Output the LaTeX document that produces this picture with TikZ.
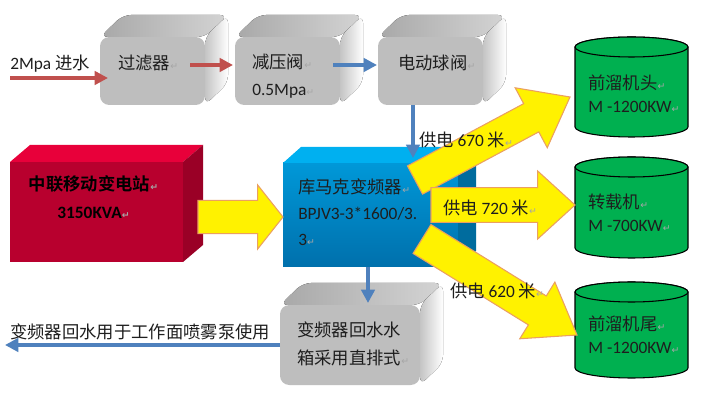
\documentclass[tikz,border=0pt]{standalone}
\usepackage{fontspec}
\setmainfont{Carlito}
\newfontfamily\cjk{Noto Sans CJK SC}[BoldFont={Noto Sans CJK SC Bold}]
\newfontfamily\dvs{DejaVu Sans}
\usetikzlibrary{calc,arrows.meta}
\definecolor{arrred}{HTML}{C0504D}
\definecolor{arrblue}{HTML}{4F81BD}
\definecolor{gfront}{HTML}{BEBEBE}
\definecolor{gtopA}{HTML}{A8A8A8}
\definecolor{gtopB}{HTML}{D4D4D4}
\definecolor{gsideA}{HTML}{C4C4C4}
\definecolor{rfront}{HTML}{B8002E}
\definecolor{rtop}{HTML}{E8003A}
\definecolor{rside}{HTML}{9A0026}
\definecolor{bfrontT}{HTML}{0098D8}
\definecolor{bfrontB}{HTML}{0070AC}
\definecolor{btop}{HTML}{00B0F0}
\definecolor{bside}{HTML}{006C9E}
\definecolor{cylgreen}{HTML}{00B050}
\definecolor{fatline}{HTML}{EBA060}
\definecolor{txt}{HTML}{1E1E1E}
\newcommand\cj[1]{{\cjk #1}}
\newcommand\parmk{{\fontsize{7}{7}\selectfont\dvs\color{black!35}↵}}
% fat arrow: #1 start, #2 tip, #3 shaft half width, #4 head half width, #5 head length
\newcommand\fatarrow[5]{%
  \coordinate (fa-h) at ($(#2)!#5!(#1)$);
  \filldraw[fat] ($(#1)!#3!90:(#2)$) -- ($(fa-h)!#3!-90:(#1)$) -- ($(fa-h)!#4!-90:(#1)$)
    -- (#2) -- ($(fa-h)!#4!90:(#1)$) -- ($(fa-h)!#3!90:(#1)$) -- ($(#1)!#3!-90:(#2)$) -- cycle;
}
\begin{document}
\begin{tikzpicture}[x=0.75pt,y=-0.75pt,
  font=\fontsize{13}{20.25}\selectfont, text=txt,
  face/.style={rectangle, inner sep=0pt, outer sep=0pt},
  grayfront/.style={face, rounded corners=7pt, fill=gfront, minimum width=78.75pt, minimum height=51pt},
  gtop/.style={rounded corners=6pt, left color=gtopA, right color=gtopB},
  gside/.style={rounded corners=6pt, left color=gsideA, right color=white},
  lbl/.style={inner sep=0pt, anchor=west, align=left},
  redarr/.style={draw=arrred, line width=3pt, -{Triangle[length=10pt,width=10pt]}},
  bluearr/.style={draw=arrblue, line width=3pt, -{Triangle[length=10pt,width=10pt]}},
  fat/.style={fill=yellow, draw=fatline, line width=0.8pt, line join=miter},
  cylbox/.style={face, minimum width=84.75pt},
  cyl/.style={fill=cylgreen, draw=black, line width=0.8pt}
]
\useasboundingbox (0,0) rectangle (706,402);
\fill[white] (0,0) rectangle (706,402);

% ---------- gray boxes top row ----------
\node[grayfront] (f) at (152.5,71) {};
\fill[gtop] (f.north west) -- ++(23,-22) -- ($(f.north east)+(23,-22)$) -- (f.north east) -- cycle;
\fill[gside] (f.north east) -- ++(23,-22) -- ($(f.south east)+(23,-22)$) -- (f.south east) -- cycle;
\node[lbl] (ft) at ($(f.west)+(18,-8)$) {\cj{过滤器}\parmk};

\node[grayfront] (v) at (287.5,71) {};
\fill[gtop] (v.north west) -- ++(23,-22) -- ($(v.north east)+(23,-22)$) -- (v.north east) -- cycle;
\fill[gside] (v.north east) -- ++(23,-22) -- ($(v.south east)+(23,-22)$) -- (v.south east) -- cycle;
\node[lbl] (vt) at ($(v.west)+(17,5.5)$) {\cj{减压阀}\parmk\\0.5Mpa\parmk};

\node[grayfront] (b) at (430.5,71) {};
\fill[gtop] (b.north west) -- ++(23,-22) -- ($(b.north east)+(23,-22)$) -- (b.north east) -- cycle;
\fill[gside] (b.north east) -- ++(23,-22) -- ($(b.south east)+(23,-22)$) -- (b.south east) -- cycle;
\node[lbl] (bt) at ($(b.west)+(20,-8)$) {\cj{电动球阀}\parmk};

% ---------- red station ----------
\node[face, fill=rfront, minimum width=129.75pt, minimum height=75pt] (s) at (96.5,212) {};
\fill[rtop] (s.north west) -- ++(20,-17) -- ($(s.north east)+(20,-17)$) -- (s.north east) -- cycle;
\fill[rside] (s.north east) -- ++(20,-17) -- ($(s.south east)+(20,-17)$) -- (s.south east) -- cycle;
\node[inner sep=0pt, align=center, font=\fontsize{13}{21}\selectfont\bfseries, text=black] (st) at ($(s.center)+(-3,-15)$)
  {\cj{\textbf{中联移动变电站}}\parmk\\3150KVA\parmk};

% ---------- blue converter ----------
\node[face, top color=bfrontT, bottom color=bfrontB, minimum width=131.25pt, minimum height=78pt] (k) at (370.5,215) {};
\fill[btop] (k.north west) -- ++(18,-16) -- ($(k.north east)+(18,-16)$) -- (k.north east) -- cycle;
\fill[bside] (k.north east) -- ++(18,-16) -- ($(k.south east)+(18,-16)$) -- (k.south east) -- cycle;
\node[lbl, font=\fontsize{13}{19.5}\selectfont] (kt) at ($(k.west)+(15,-3)$) {\cj{库马克变频器}\parmk\\BPJV3-3*1600/3.\\3\parmk};

% ---------- gray tank ----------
\node[grayfront, minimum width=105pt, minimum height=60pt] (t) at (350,345) {};
\fill[gtop] (t.north west) -- ++(23,-22) -- ($(t.north east)+(23,-22)$) -- (t.north east) -- cycle;
\fill[gside] (t.north east) -- ++(23,-22) -- ($(t.south east)+(23,-22)$) -- (t.south east) -- cycle;
\node[lbl, font=\fontsize{13}{21}\selectfont] (tt) at ($(t.west)+(17,-1)$) {\cj{变频器回水水}\\\cj{箱采用直排式}\parmk};

% ---------- cylinders ----------
\node[cylbox, minimum height=60pt] (c1) at (631.5,87) {};
\draw[cyl] (c1.north west) -- (c1.south west) arc[start angle=180,end angle=0,x radius=56.5,y radius=10]
  -- (c1.north east) arc[start angle=0,end angle=-180,x radius=56.5,y radius=10] -- cycle;
\draw[cyl] (c1.north) ellipse[x radius=56.5,y radius=10];
\node[lbl, font=\fontsize{13}{17.25}\selectfont] (c1t) at ($(c1.west)+(13,6.5)$) {\cj{前溜机头}\parmk\\M -1200KW\parmk};

\node[cylbox, minimum height=60.75pt] (c2) at (631.5,207.5) {};
\draw[cyl] (c2.north west) -- (c2.south west) arc[start angle=180,end angle=0,x radius=56.5,y radius=10]
  -- (c2.north east) arc[start angle=0,end angle=-180,x radius=56.5,y radius=10] -- cycle;
\draw[cyl] (c2.north) ellipse[x radius=56.5,y radius=10];
\node[lbl, font=\fontsize{13}{17.25}\selectfont] (c2t) at ($(c2.west)+(13,5.5)$) {\cj{转载机}\parmk\\M -700KW\parmk};

\node[cylbox, minimum height=57pt] (c3) at (631.5,330) {};
\draw[cyl] (c3.north west) -- (c3.south west) arc[start angle=180,end angle=0,x radius=56.5,y radius=10]
  -- (c3.north east) arc[start angle=0,end angle=-180,x radius=56.5,y radius=10] -- cycle;
\draw[cyl] (c3.north) ellipse[x radius=56.5,y radius=10];
\node[lbl, font=\fontsize{13}{17.25}\selectfont] (c3t) at ($(c3.west)+(13,5)$) {\cj{前溜机尾}\parmk\\M -1200KW\parmk};

% ---------- thin arrows ----------
\coordinate (inlet) at (10,78);
\node[lbl] (inl) at (10,64) {2Mpa \cj{进水}};
\draw[redarr] (inlet) -- ($(f.west)+(8,7)$);
\draw[redarr] ($(f.east)+(-15,-6)$) -- ($(v.west)+(-2,-6)$);
\draw[bluearr] ($(v.east)+(-7,-6)$) -- ($(b.west)+(-1,-6)$);
\draw[bluearr] ($(b.south)+(-17.5,0)$) -- ($(k.north)+(42.5,-5)$);
\draw[bluearr] ($(k.south)+(-2.5,0)$) -- ($(t.north)+(18,-2)$);
\coordinate (spray) at (5,345);
\draw[bluearr] (t.west) -- (spray);
\node[lbl] (sprayt) at (10,332) {\cj{变频器回水用于工作面喷雾泵使用}};

% ---------- fat yellow arrows ----------
\coordinate (a0) at ($(s.east)+(15,5)$);
\coordinate (b0) at ($(k.west)+(0,2)$);
\fatarrow{a0}{b0}{12.5pt}{24pt}{19pt}

\coordinate (a1) at ($(k.north east)+(-43,17)$);
\coordinate (b1) at ($(c1.west)+(-5,10)$);
\fatarrow{a1}{b1}{12pt}{25.5pt}{33pt}

\coordinate (a2) at ($(k.east)+(-27,-10)$);
\coordinate (b2) at ($(c2.west)+(0,-2.5)$);
\fatarrow{a2}{b2}{13pt}{25.5pt}{28pt}

\coordinate (a3) at ($(k.east)+(-36,24)$);
\coordinate (b3) at ($(c3.west)+(2,5)$);
\fatarrow{a3}{b3}{12.75pt}{25pt}{35pt}

\node[inner sep=0pt] (l1) at (466,140) {\cj{供电} 670 \cj{米}\parmk};
\node[inner sep=0pt] (l2) at (490,208) {\cj{供电} 720 \cj{米}\parmk};
\node[inner sep=0pt] (l3) at (497,291) {\cj{供电} 620 \cj{米}\parmk};
\end{tikzpicture}
\end{document}
